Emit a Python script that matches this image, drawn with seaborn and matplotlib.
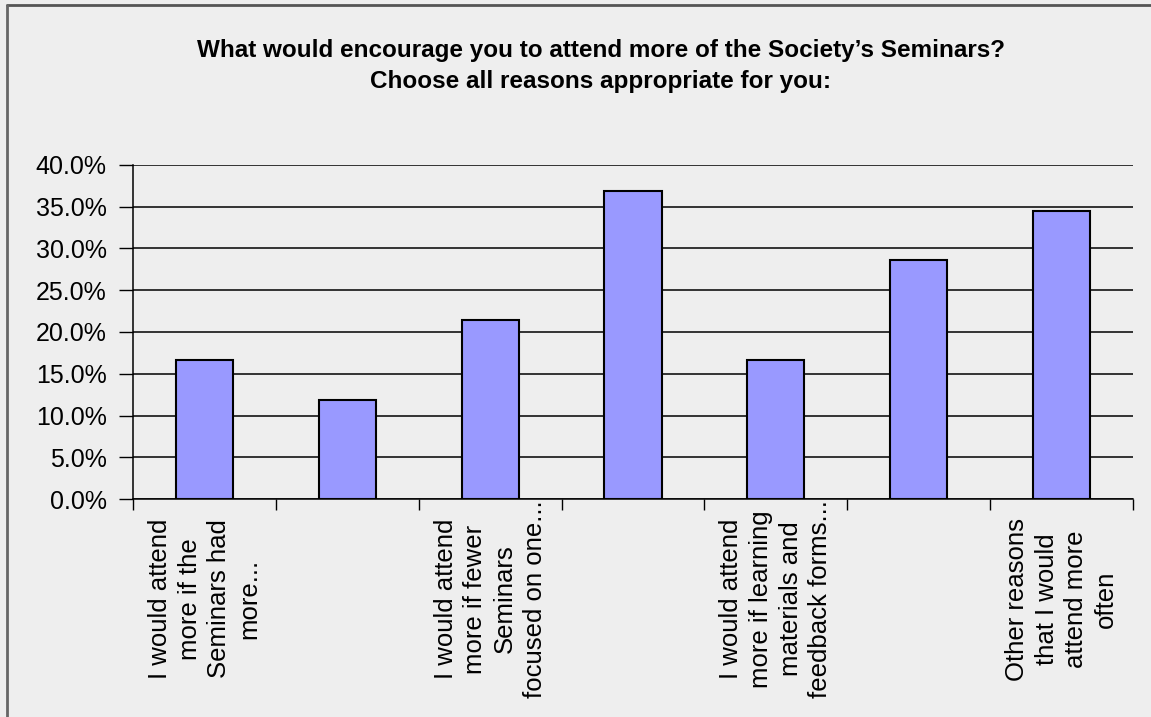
import numpy as np
import pandas as pd
import matplotlib
matplotlib.use("Agg")
import matplotlib.pyplot as plt
from matplotlib.lines import Line2D
import seaborn as sns

# Data
categories = ["A", "B", "C", "D", "E", "F", "G"]
shares = [16.7, 11.9, 21.4, 36.9, 16.7, 28.6, 34.5]
tick_labels = [
    "I would attend\nmore if the\nSeminars had\nmore...",
    "",
    "I would attend\nmore if fewer\nSeminars\nfocused on one...",
    "",
    "I would attend\nmore if learning\nmaterials and\nfeedback forms...",
    "",
    "Other reasons\nthat I would\nattend more\noften",
]
y_ticks = [0, 5, 10, 15, 20, 25, 30, 35, 40]
title_lines = [
    "What would encourage you to attend more of the Society\u2019s Seminars?",
    "Choose all reasons appropriate for you:",
]

bg = "#EEEEEE"
bar_color = "#9999FF"

sns.set_theme(style="white")
plt.rcParams["font.family"] = ["Liberation Sans", "DejaVu Sans"]

df = pd.DataFrame({"category": categories, "share": shares})

fig = plt.figure(figsize=(11.51, 7.17), dpi=100)
fig.patch.set_facecolor(bg)
ax = fig.add_axes([0.1156, 0.304, 0.8688, 0.466])
ax.set_facecolor(bg)

sns.barplot(data=df, x="category", y="share", color=bar_color, width=0.4,
            edgecolor="black", linewidth=1.5, saturation=1, ax=ax, zorder=3)

ax.set_ylim(0, 40)
ax.set_xlim(-0.5, len(categories) - 0.5)
ax.set_yticks(y_ticks)
ax.set_yticklabels([f"{v:.1f}%" for v in y_ticks], fontsize=18, color="black")
ax.yaxis.grid(True, color="black", linewidth=1.1, zorder=0)
ax.set_axisbelow(True)

# category ticks on boundaries, labels at centres (blocks centred vertically)
ax.set_xticks(np.arange(len(categories) + 1) - 0.5)
ax.set_xticklabels([])
ax.set_xticks(np.arange(len(categories)), minor=True)
ax.set_xticklabels(tick_labels, minor=True, rotation=90, fontsize=18.5,
                   color="black", ha="center", va="center",
                   multialignment="center", linespacing=1.3)
ax.tick_params(axis="x", which="minor", length=0, pad=72)
ax.tick_params(axis="x", which="major", length=8, width=1, color="black",
               direction="out", bottom=True)
ax.tick_params(axis="y", length=10, width=1, color="black", direction="out",
               left=True, pad=9)

for side in ["top", "right"]:
    ax.spines[side].set_visible(False)
for side in ["left", "bottom"]:
    ax.spines[side].set_color("black")
    ax.spines[side].set_linewidth(1.1)

ax.set_xlabel("")
ax.set_ylabel("")

fig.text(0.522, 0.930, title_lines[0], ha="center", va="center", fontsize=17.5,
         fontweight="bold", color="black")
fig.text(0.522, 0.887, title_lines[1], ha="center", va="center", fontsize=17.5,
         fontweight="bold", color="black")

# chart border (top and left edges visible)
fig.add_artist(Line2D([0.006, 1.0], [0.993, 0.993], transform=fig.transFigure,
                      color="#555555", linewidth=2))
fig.add_artist(Line2D([0.006, 0.006], [0.0, 0.993], transform=fig.transFigure,
                      color="#666666", linewidth=2))

fig.savefig("out.png", dpi=100, facecolor=fig.get_facecolor())
